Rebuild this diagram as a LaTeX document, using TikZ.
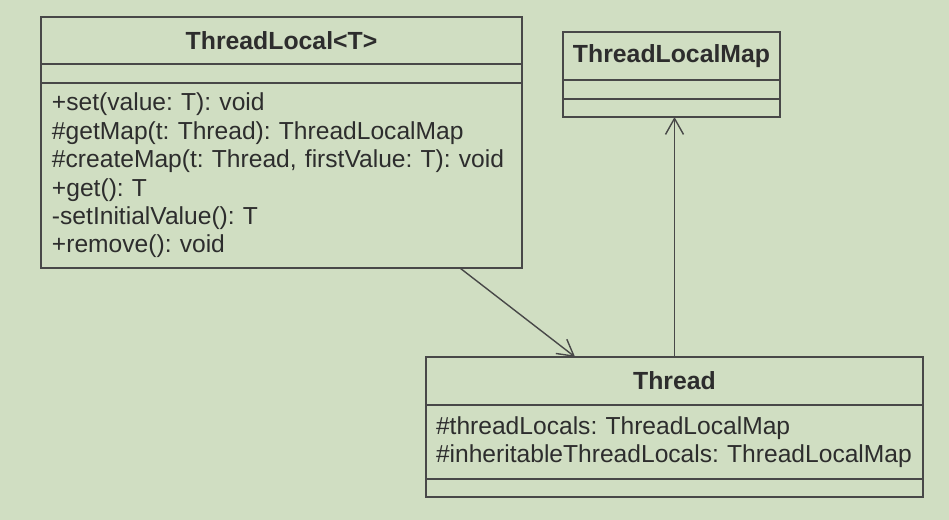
\documentclass[tikz,border=0pt]{standalone}
\usepackage{fontspec}
\setmainfont{Liberation Sans}
\usetikzlibrary{arrows.meta,calc}
\definecolor{bgcol}{RGB}{208,222,194}
\definecolor{linecol}{RGB}{72,72,72}
\definecolor{textcol}{RGB}{45,45,45}
\frenchspacing
\hyphenpenalty=10000
\begin{document}
\begin{tikzpicture}[x=0.5pt,y=-0.5pt,
  compart/.style={draw=linecol, line width=0.9pt, rectangle, anchor=north west, inner sep=0pt, outer sep=0pt, text=textcol},
  classtitle/.style={compart, font=\fontsize{12.4}{14}\selectfont\bfseries},
  members/.style={compart, font=\fontsize{12.3}{14.2}\selectfont, align=left, inner xsep=5pt},
  assoc/.style={draw=linecol, line width=0.7pt, -{Straight Barb[length=8pt,width=9pt]}}]
\fill[bgcol] (0,0) rectangle (949,520);
\useasboundingbox (0,0) rectangle (949,520);
% ThreadLocal<T>
\node[classtitle, minimum width=240.5pt, minimum height=23.5pt] (tltitle) at (41,17) {ThreadLocal<T>};
\node[compart, minimum width=240.5pt, minimum height=9.5pt] (tlattr) at (tltitle.south west) {};
\node[members, inner xsep=5.5pt, text width=229.5pt, minimum height=92.5pt] (tlops) at (tlattr.south west) {+set(value: T): void\\\#getMap(t: Thread): ThreadLocalMap\\\#createMap(t: Thread, firstValue: T): void\\+get(): T\\-setInitialValue(): T\\+remove(): void};
% ThreadLocalMap
\node[classtitle, minimum width=108.5pt, minimum height=24pt] (maptitle) at (563,32) {ThreadLocalMap};
\node[compart, minimum width=108.5pt, minimum height=9.5pt] (mapattr) at (maptitle.south west) {};
\node[compart, minimum width=108.5pt, minimum height=9pt] (mapops) at (mapattr.south west) {};
% Thread
\node[classtitle, minimum width=248.5pt, minimum height=24pt] (thrtitle) at (426,357) {Thread};
\node[members, text width=238.5pt, minimum height=37pt] (thrattr) at (thrtitle.south west) {\#threadLocals: ThreadLocalMap\\\#inheritableThreadLocals: ThreadLocalMap};
\node[compart, minimum width=248.5pt, minimum height=9pt] (throps) at (thrattr.south west) {};
% associations
\draw[assoc] ($(tlops.south west)!0.871!(tlops.south east)$) -- ($(thrtitle.north west)!0.30!(thrtitle.north east)$);
\draw[assoc] (thrtitle.north) -- (thrtitle.north |- mapops.south);
\end{tikzpicture}
\end{document}
